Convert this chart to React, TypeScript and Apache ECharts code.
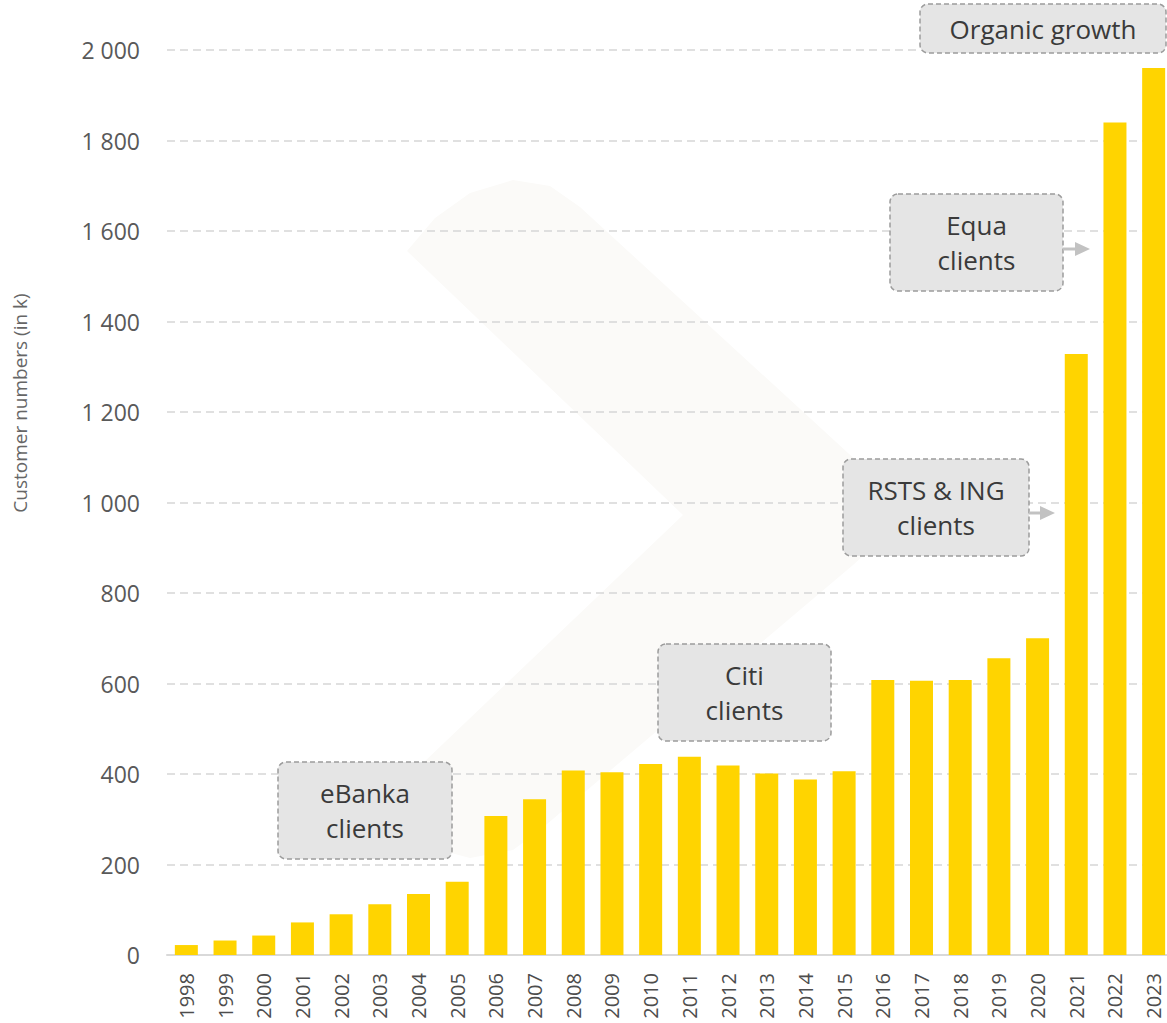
import React, { useEffect, useRef } from "react";
import * as echarts from "echarts";

const years = [
  "1998", "1999", "2000", "2001", "2002", "2003", "2004", "2005", "2006", "2007",
  "2008", "2009", "2010", "2011", "2012", "2013", "2014", "2015", "2016", "2017",
  "2018", "2019", "2020", "2021", "2022", "2023",
];
const customers = [
  22, 32, 43, 72, 90, 112, 135, 162, 307, 344,
  408, 404, 422, 438, 419, 401, 388, 406, 608, 606,
  608, 656, 700, 1328, 1840, 1960,
];
const yAxisTitle = "Customer numbers (in k)";
const annotationTexts = ["eBanka\nclients", "Citi\nclients", "RSTS & ING\nclients", "Equa\nclients", "Organic growth"];

const FONT = "'Open Sans', 'Noto Sans', sans-serif";

const boxes = [
  { x: 278, y: 762, w: 174, h: 97 },
  { x: 658, y: 644, w: 173, h: 97 },
  { x: 843, y: 459, w: 186, h: 97 },
  { x: 890, y: 194, w: 173, h: 97 },
  { x: 920, y: 4, w: 246, h: 49 },
];
const arrows = [
  { x: 1029, y: 513, len: 26 },
  { x: 1063, y: 249, len: 27 },
];

function fmt(v: number): string {
  if (v >= 1000) {
    return Math.floor(v / 1000) + " " + String(v % 1000).padStart(3, "0");
  }
  return String(v);
}

export default function App() {
  const ref = useRef<HTMLDivElement>(null);
  useEffect(() => {
    if (!ref.current) return;
    const chart = echarts.init(ref.current, undefined, { renderer: "svg" });
    const graphics: any[] = [];
    // faint chevron watermark
    graphics.push({
      type: "polygon",
      z: -5,
      silent: true,
      shape: {
        points: [
          [407, 251], [435, 218], [470, 193], [513, 180], [550, 186], [580, 207],
          [860, 464], [893, 497], [900, 514], [890, 532], [853, 565],
          [540, 830], [513, 850], [470, 858], [440, 850], [425, 830], [423, 763],
          [683, 515],
        ],
      },
      style: { fill: "#fbfaf8" },
    });
    boxes.forEach((b, i) => {
      graphics.push({
        type: "rect",
        z: 10,
        shape: { x: b.x, y: b.y, width: b.w, height: b.h, r: 8 },
        style: { fill: "#e5e5e5", stroke: "#9c9c9c", lineWidth: 1.5, lineDash: [5, 3] },
      });
      graphics.push({
        type: "text",
        z: 11,
        x: b.x + b.w / 2,
        y: b.y + b.h / 2,
        style: {
          text: annotationTexts[i],
          fontFamily: FONT,
          fontSize: 26,
          lineHeight: 35,
          fill: "#3a3a3a",
          align: "center",
          verticalAlign: "middle",
        },
      });
    });
    arrows.forEach((a) => {
      graphics.push({
        type: "line",
        z: 10,
        shape: { x1: a.x, y1: a.y, x2: a.x + a.len - 12, y2: a.y },
        style: { stroke: "#c2c2c2", lineWidth: 3 },
      });
      graphics.push({
        type: "polygon",
        z: 10,
        shape: { points: [[a.x + a.len - 15, a.y - 7], [a.x + a.len, a.y], [a.x + a.len - 15, a.y + 7]] },
        style: { fill: "#c2c2c2" },
      });
    });
    graphics.push({
      type: "text",
      z: 10,
      x: 20,
      y: 403,
      rotation: Math.PI / 2,
      style: {
        text: yAxisTitle,
        fontFamily: FONT,
        fontSize: 19,
        fill: "#666666",
        align: "center",
        verticalAlign: "middle",
      },
    });

    chart.setOption({
      animation: false,
      backgroundColor: "#ffffff",
      grid: { left: 167, right: 7, top: 50, bottom: 68, containLabel: false },
      xAxis: {
        type: "category",
        data: years,
        axisLine: { show: true, lineStyle: { color: "#d9d9d9", width: 2 } },
        axisTick: { show: false },
        axisLabel: {
          rotate: 90,
          margin: 18,
          fontSize: 20,
          fontFamily: FONT,
          color: "#4d4d4d",
          interval: 0,
        },
      },
      yAxis: {
        type: "value",
        min: 0,
        max: 2000,
        interval: 200,
        axisLine: { show: false },
        axisTick: { show: false },
        axisLabel: {
          margin: 27,
          fontSize: 23,
          fontFamily: FONT,
          color: "#595959",
          formatter: (v: number) => fmt(v),
        },
        splitLine: {
          show: true,
          lineStyle: { color: "#d6d6d6", width: 1.5, type: [8, 5] },
        },
      },
      series: [
        {
          type: "bar",
          data: customers,
          barWidth: 23,
          itemStyle: { color: "#FFD400" },
          z: 2,
        },
      ],
      graphic: graphics,
    });
    return () => chart.dispose();
  }, []);
  return (
    <div style={{ position: "absolute", left: 0, top: 0, width: 1167, height: 1023, overflow: "hidden" }}>
      <div ref={ref} style={{ width: 1180, height: 1023 }} />
    </div>
  );
}
